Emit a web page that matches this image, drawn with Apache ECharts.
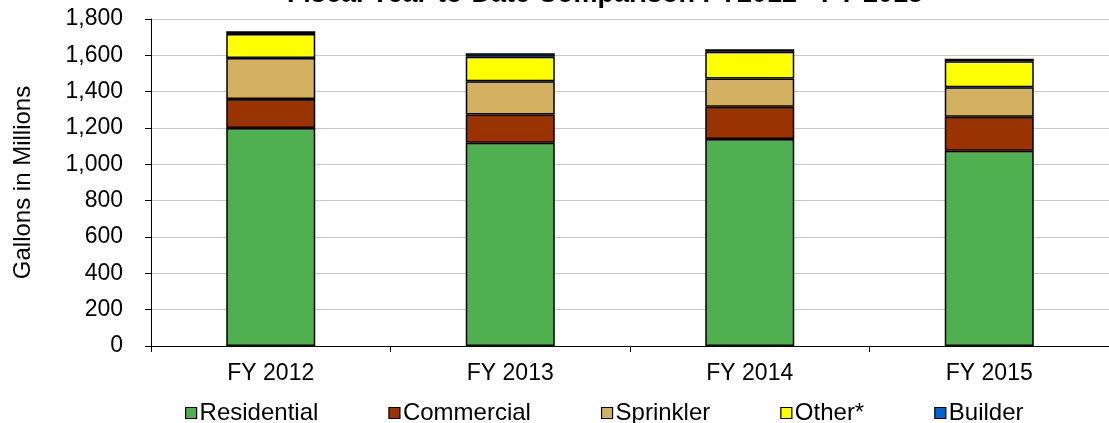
<!DOCTYPE html>
<html>
<head>
<meta charset="utf-8">
<script src="https://cdn.jsdelivr.net/npm/echarts@6/dist/echarts.min.js"></script>
<style>
  html, body { margin: 0; padding: 0; background: #fff; }
  #myChart { width: 1109px; height: 423px; }
</style>
</head>
<body>
<div id="myChart"></div>
<script>
// categories and stacked values (gallons in millions)
var years = ["FY 2012", "FY 2013", "FY 2014", "FY 2015"];
var residential = [1200, 1119, 1139, 1075];
var commercial = [160, 156, 178, 187];
var sprinkler = [225, 183, 156, 162];
var other = [132, 134, 147, 143];
var builder = [16, 19, 14, 14];

var font = "Liberation Sans, Arial, sans-serif";

function stackSeries(name, data, color) {
  return {
    name: name,
    type: "bar",
    stack: "total",
    barWidth: 89,
    data: data,
    itemStyle: { color: color, borderColor: "#000", borderWidth: 1.5 }
  };
}

var myChart = echarts.init(document.getElementById("myChart"));
var option = {
  animation: false,
  title: {
    text: "Fiscal Year-to-Date Comparison FY2012 - FY 2015",
    left: 600,
    textAlign: "center",
    top: -24,
    textStyle: { fontFamily: font, fontSize: 27, fontWeight: "bold", color: "#000" }
  },
  legend: {
    left: 180,
    top: 396,
    itemWidth: 11,
    itemHeight: 11,
    itemGap: 70,
    icon: "rect",
    itemStyle: { borderColor: "#000", borderWidth: 1.2 },
    textStyle: { fontFamily: font, fontSize: 24, color: "#000", padding: [0, 0, 0, -2] },
    data: ["Residential", "Commercial", "Sprinkler", "Other*", "Builder"]
  },
  grid: { left: 151, top: 19, width: 964, height: 327 },
  xAxis: {
    type: "category",
    data: years,
    axisLine: { lineStyle: { color: "#000", width: 1 } },
    axisTick: { show: true, length: 6, lineStyle: { color: "#000" } },
    axisLabel: { fontFamily: font, fontSize: 23, color: "#000", margin: 16 }
  },
  yAxis: {
    type: "value",
    min: 0,
    max: 1800,
    interval: 200,
    name: "Gallons in Millions",
    nameLocation: "middle",
    nameGap: 116,
    nameTextStyle: { fontFamily: font, fontSize: 24, color: "#000" },
    axisLine: { show: true, lineStyle: { color: "#000", width: 1 } },
    axisTick: { show: true, length: 6, lineStyle: { color: "#000" } },
    axisLabel: {
      fontFamily: font, fontSize: 23, color: "#000", margin: 28,
      formatter: function (v) { return v.toLocaleString("en-US"); }
    },
    splitLine: { lineStyle: { color: "#c8c8c8", width: 1 } }
  },
  series: [
    stackSeries("Residential", residential, "#50b050"),
    stackSeries("Commercial", commercial, "#993300"),
    stackSeries("Sprinkler", sprinkler, "#d4b160"),
    stackSeries("Other*", other, "#ffff00"),
    stackSeries("Builder", builder, "#0066cc")
  ]
};
myChart.setOption(option);
</script>
</body>
</html>
